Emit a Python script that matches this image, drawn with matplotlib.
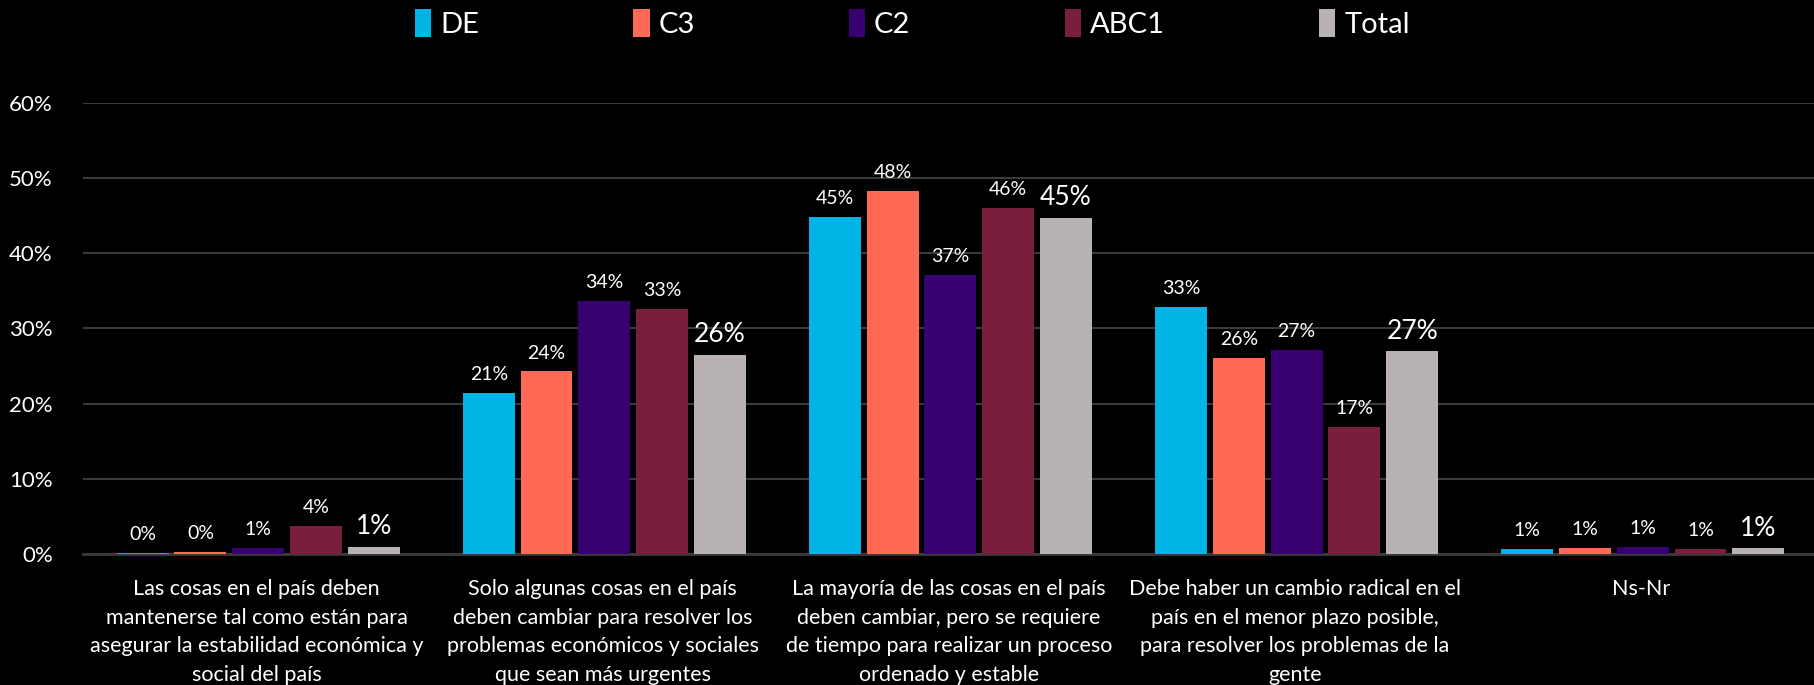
import numpy as np
import matplotlib.pyplot as plt

# data (percent)
categories = [
    "Las cosas en el país deben\nmantenerse tal como están para\nasegurar la estabilidad económica y\nsocial del país",
    "Solo algunas cosas en el país\ndeben cambiar para resolver los\nproblemas económicos y sociales\nque sean más urgentes",
    "La mayoría de las cosas en el país\ndeben cambiar, pero se requiere\nde tiempo para realizar un proceso\nordenado y estable",
    "Debe haber un cambio radical en el\npaís en el menor plazo posible,\npara resolver los problemas de la\ngente",
    "Ns-Nr",
]
series = ["DE", "C3", "C2", "ABC1", "Total"]
de = [0.2, 21.4, 44.8, 32.9, 0.7]
c3 = [0.3, 24.3, 48.3, 26.1, 0.8]
c2 = [0.8, 33.7, 37.1, 27.2, 1.0]
abc1 = [3.8, 32.6, 46.0, 16.9, 0.7]
total = [1.0, 26.5, 44.7, 27.0, 0.8]
colors = ["#00B4E4", "#FF6955", "#380070", "#7A1E3E", "#B8B2B2"]

values = [de, c3, c2, abc1, total]
fam = ["Lato", "DejaVu Sans"]

fig = plt.figure(figsize=(18.14, 6.85), dpi=100, facecolor="black")
ax = fig.add_axes([0.046, 0.191, 0.954, 0.659])
ax.set_facecolor("black")

x = np.arange(len(categories))
step = 0.167
width = 0.15
for i, (name, vals, col) in enumerate(zip(series, values, colors)):
    pos = x + (i - 2) * step + 0.005
    ax.bar(pos, vals, width, color=col, label=name, zorder=3)
    big = name == "Total"
    for px, v in zip(pos, vals):
        ax.text(px, v + (1.0 if big else 1.3), f"{round(v)}%", ha="center", va="bottom",
                color="white", fontsize=19 if big else 14, family=fam)

ax.set_xlim(-0.5, 4.5)
ax.set_ylim(0, 60)
ax.set_yticks(range(0, 61, 10))
ax.set_yticklabels([f"{t}%" for t in range(0, 61, 10)], color="white", fontsize=16, family=fam)
ax.set_xticks(x)
ax.set_xticklabels(categories, color="white", fontsize=15.5, linespacing=1.53, family=fam)
ax.tick_params(axis="both", length=0)
ax.tick_params(axis="x", pad=18)
ax.tick_params(axis="y", pad=22)
ax.grid(axis="y", color="#3a3a3a", linewidth=1.5, zorder=0)
for s in ["top", "right", "left"]:
    ax.spines[s].set_visible(False)
ax.spines["bottom"].set_color("#3a3a3a")
ax.spines["bottom"].set_linewidth(2)

leg = fig.legend(loc="upper center", bbox_to_anchor=(0.503, 1.025), ncol=5, frameon=False,
                 handlelength=0.55, handleheight=1.1, handletextpad=0.3,
                 columnspacing=5.3, prop={"family": fam, "size": 21})
for t in leg.get_texts():
    t.set_color("white")

fig.savefig("out.png", dpi=100, facecolor="black")
